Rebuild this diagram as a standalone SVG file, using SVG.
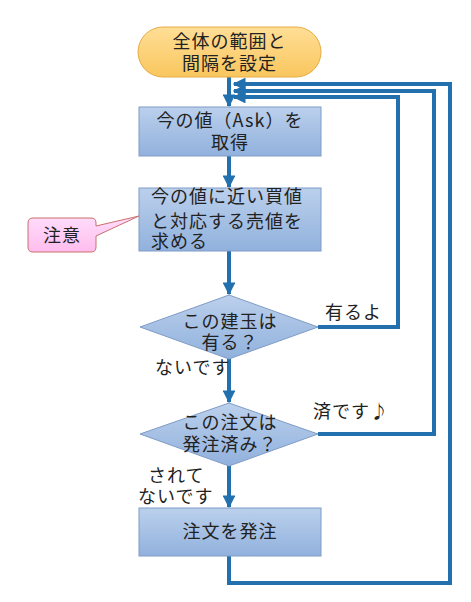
<svg xmlns="http://www.w3.org/2000/svg" width="471" height="602" viewBox="0 0 471 602">
<defs>
<style>
.t{font-family:"Noto Sans CJK JP","Noto Sans",sans-serif;font-size:18px;fill:#222;letter-spacing:1px}
.c{text-anchor:middle}
.ln{fill:none;stroke:#2270AE;stroke-width:4;stroke-linejoin:miter}
.box{fill:url(#gb);stroke:#7F9CC6;stroke-width:1}
</style>
<linearGradient id="gb" x1="0" y1="0" x2="0" y2="1"><stop offset="0" stop-color="#BBD0EC"/><stop offset="1" stop-color="#91B1DD"/></linearGradient>
<linearGradient id="go" x1="0" y1="0" x2="0" y2="1"><stop offset="0" stop-color="#FFDE96"/><stop offset="1" stop-color="#F9C65E"/></linearGradient>
<linearGradient id="gp" x1="0" y1="0" x2="0" y2="1"><stop offset="0" stop-color="#FFDDFB"/><stop offset="1" stop-color="#FFBDEE"/></linearGradient>
<marker id="ah" viewBox="0 0 10 10" refX="9" refY="5" markerWidth="3.2" markerHeight="3.2" orient="auto" markerUnits="strokeWidth"><path d="M0,0 L10,5 L0,10 z" fill="#2270AE"/></marker>
</defs>
<rect width="471" height="602" fill="#fff"/>
<g id="connectors">
<path class="ln" d="M229,77 V106" marker-end="url(#ah)"/>
<path class="ln" d="M229,156 V187" marker-end="url(#ah)"/>
<path class="ln" d="M229,251 V294" marker-end="url(#ah)"/>
<path class="ln" d="M229,359 V402" marker-end="url(#ah)"/>
<path class="ln" d="M229,466 V507" marker-end="url(#ah)"/>
<path class="ln" d="M318,327 H398 V97 H234" marker-end="url(#ah)"/>
<path class="ln" d="M318,434 H434 V91 H234" marker-end="url(#ah)"/>
<path class="ln" d="M229,556 V583 H450 V84 H234" marker-end="url(#ah)"/>
</g>
<g id="start">
<rect x="138" y="27" width="183" height="50" rx="25" ry="25" fill="url(#go)" stroke="#E6AC45" stroke-width="1"/>
<text class="t c" x="229.5" y="48">全体の範囲と</text>
<text class="t c" x="229.5" y="70">間隔を設定</text>
</g>
<g id="box1">
<rect class="box" x="139" y="107" width="182" height="49"/>
<text class="t c" x="230" y="127">今の値（Ask）を</text>
<text class="t c" x="230" y="149">取得</text>
</g>
<g id="box2">
<rect class="box" x="139" y="188" width="182" height="63"/>
<text class="t" x="151" y="203">今の値に近い買値</text>
<text class="t" x="151" y="228">と対応する売値を</text>
<text class="t" x="151" y="248">求める</text>
</g>
<g id="note">
<path d="M33,218 H91 Q96,218 96,223 V226 L139,216 L96,236 V247 Q96,252 91,252 H33 Q28,252 28,247 V223 Q28,218 33,218 z" fill="url(#gp)" stroke="#C8706E" stroke-width="1"/>
<text class="t c" x="62" y="242">注意</text>
</g>
<g id="dec1">
<path class="box" d="M229,295 L318,327 L229,359 L140,327 z"/>
<text class="t c" x="230" y="328">この建玉は</text>
<text class="t c" x="230" y="349">有る？</text>
</g>
<g id="dec2">
<path class="box" d="M229,403 L318,434 L229,466 L140,434 z"/>
<text class="t c" x="230" y="429">この注文は</text>
<text class="t c" x="230" y="451">発注済み？</text>
</g>
<g id="box3">
<rect class="box" x="139" y="508" width="182" height="48"/>
<text class="t c" x="230" y="538">注文を発注</text>
</g>
<g id="labels">
<text class="t" x="325" y="319">有るよ</text>
<text class="t" x="155" y="374">ないです</text>
<text class="t" x="313" y="418">済です♪</text>
<text class="t" x="148" y="482">されて</text>
<text class="t" x="138" y="503">ないです</text>
</g>
</svg>
